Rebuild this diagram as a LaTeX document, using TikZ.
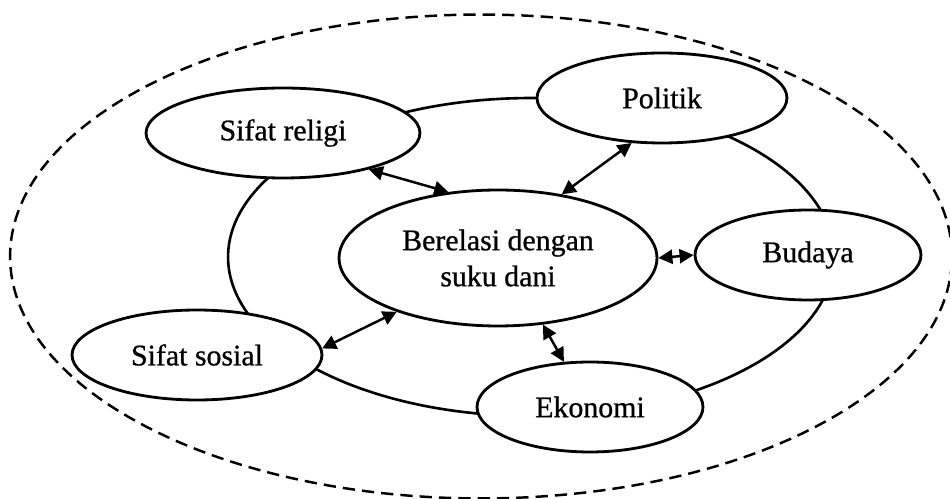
\documentclass[tikz,border=0pt]{standalone}
\usepackage{fontspec}
\setmainfont{Liberation Serif}[FakeBold=0.8]
\usetikzlibrary{shapes.geometric,arrows.meta}
\begin{document}
\begin{tikzpicture}[x=0.02cm,y=-0.02cm,
  ring/.style={line width=1.5pt},
  boundary/.style={line width=1.4pt,dash pattern=on 7pt off 4pt},
  topic/.style={ellipse,draw,line width=1.6pt,fill=white,inner sep=0pt,
    font=\fontsize{17}{20.5}\selectfont,align=center},
  link/.style={line width=1.4pt,{Triangle[length=8pt,width=8pt]}-{Triangle[length=8pt,width=8pt]}}]
\useasboundingbox (0,0) rectangle (950,499);

% outer dashed boundary and the ring joining the topics
\draw[boundary] (481,256.5) ellipse [x radius=9.42cm, y radius=4.84cm];
\draw[ring] (531,257) ellipse [x radius=6.06cm, y radius=3.18cm];

% topics
\node[topic,minimum width=6.36cm,minimum height=2.72cm] (c) at (498,258) {Berelasi dengan\\suku dani};
\node[topic,minimum width=5.48cm,minimum height=1.8cm] (religi) at (283,133) {Sifat religi};
\node[topic,minimum width=5.0cm,minimum height=1.8cm] (politik) at (662,98) {Politik};
\node[topic,minimum width=4.52cm,minimum height=1.8cm] (budaya) at (808,255) {Budaya};
\node[topic,minimum width=5.0cm,minimum height=1.8cm] (sosial) at (197,355) {Sifat sosial};
\node[topic,minimum width=4.52cm,minimum height=1.8cm] (ekonomi) at (590,407) {Ekonomi};

% two-way relations with the centre
\draw[link] (religi.-23.5) -- (c.127);
\draw[link] (politik.-124) -- (c.45);
\draw[link] (c.east) -- (budaya.west);
\draw[link] (sosial.3) -- (c.-152.5);
\draw[link] (ekonomi.120) -- (c.-56);
\end{tikzpicture}
\end{document}
